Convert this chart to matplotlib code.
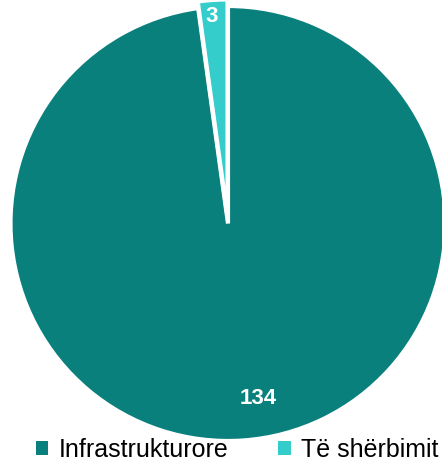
import matplotlib.pyplot as plt
from matplotlib.patches import Patch

# data
categories = ["Infrastrukturore", "Të shërbimit"]
values = [134, 3]
colors = ["#0A807D", "#35CCCC"]

W, H = 442, 463
fig = plt.figure(figsize=(W / 100, H / 100), dpi=100)
ax = fig.add_axes([0, 0, 1, 1])

# pie geometry in pixels
cx, cy, r = 228, 223.5, 217.5

wedges, _ = ax.pie(values, colors=colors, startangle=90, counterclock=False,
                   radius=1, explode=[0, 0.03],
                   wedgeprops=dict(edgecolor="white", linewidth=3))

ax.set_aspect("equal")
ax.set_xlim(-cx / r, (W - cx) / r)
ax.set_ylim(-(H - cy) / r, cy / r)
ax.axis("off")

# value labels
ax.text((258 - cx) / r, (cy - 399) / r, str(values[0]), color="white",
        fontsize=16, fontweight="bold", family="Liberation Sans",
        ha="center", va="center")
ax.text((212 - cx) / r, (cy - 17) / r, str(values[1]), color="white",
        fontsize=16, fontweight="bold", family="Liberation Sans",
        ha="center", va="center")

handles = [Patch(facecolor=c, edgecolor="none") for c in colors]
fig.legend(handles, categories, loc="center", ncol=2,
           bbox_to_anchor=(237 / W, 1 - 450 / H), frameon=False,
           prop=dict(family="Liberation Sans", size=18),
           handlelength=0.5, handleheight=0.5, handletextpad=0.4,
           columnspacing=2.0, borderaxespad=0, borderpad=0)

fig.savefig("out.png", dpi=100)
